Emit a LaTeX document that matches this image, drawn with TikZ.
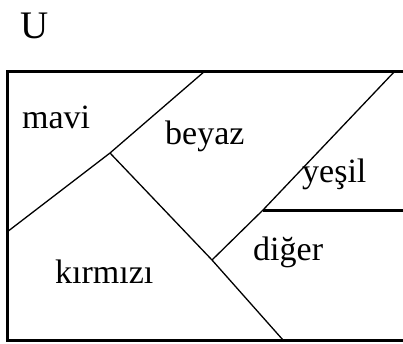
\documentclass[tikz,border=0pt]{standalone}
\usepackage{fontspec}
\setmainfont{Liberation Serif}
\usepackage{tikz}

\begin{document}
\begin{tikzpicture}[x=1pt,y=-1pt,
    word/.style={anchor=base west,inner sep=0pt,font=\fontsize{34}{40}\selectfont},
    border/.style={line width=3pt},
    cut/.style={line width=1.3pt}]
        \useasboundingbox (0,0) rectangle (403,343);

        % universe label
        \node[anchor=base west,inner sep=0pt,font=\fontsize{39}{44}\selectfont] (u) at (20,38) {U};

        % frame (right side runs off the page)
        \draw[border] (403,71) -- (7,71) -- (7,340) -- (403,340);

        % corners of the pieces
        \coordinate (leftend) at (7,232);
        \coordinate (topa) at (205,71);
        \coordinate (topc) at (395,71);
        \coordinate (bottomb) at (283,340);
        \coordinate (rightend) at (403,210);
        \coordinate (j1) at (110,153);
        \coordinate (j2) at (212,260);
        \coordinate (j3) at (263,210);

        % mavi / rest
        \draw[cut] (leftend) -- (j1) -- (topa);
        % beyaz / kirmizi
        \draw[cut] (j1) -- (j2) -- (bottomb);
        % beyaz / yesil
        \draw[cut] (j2) -- (j3) -- (topc);
        % yesil / diger
        \draw[border] (j3) -- (rightend);

        % names
        \node[word] (mavi) at (22,128) {mavi};
        \node[word] (beyaz) at (165,144) {beyaz};
        \node[word] (yesil) at (302,182) {yeşil};
        \node[word] (diger) at (253,260) {diğer};
        \node[word] (kirmizi) at (55,283) {kırmızı};
\end{tikzpicture}
\end{document}
